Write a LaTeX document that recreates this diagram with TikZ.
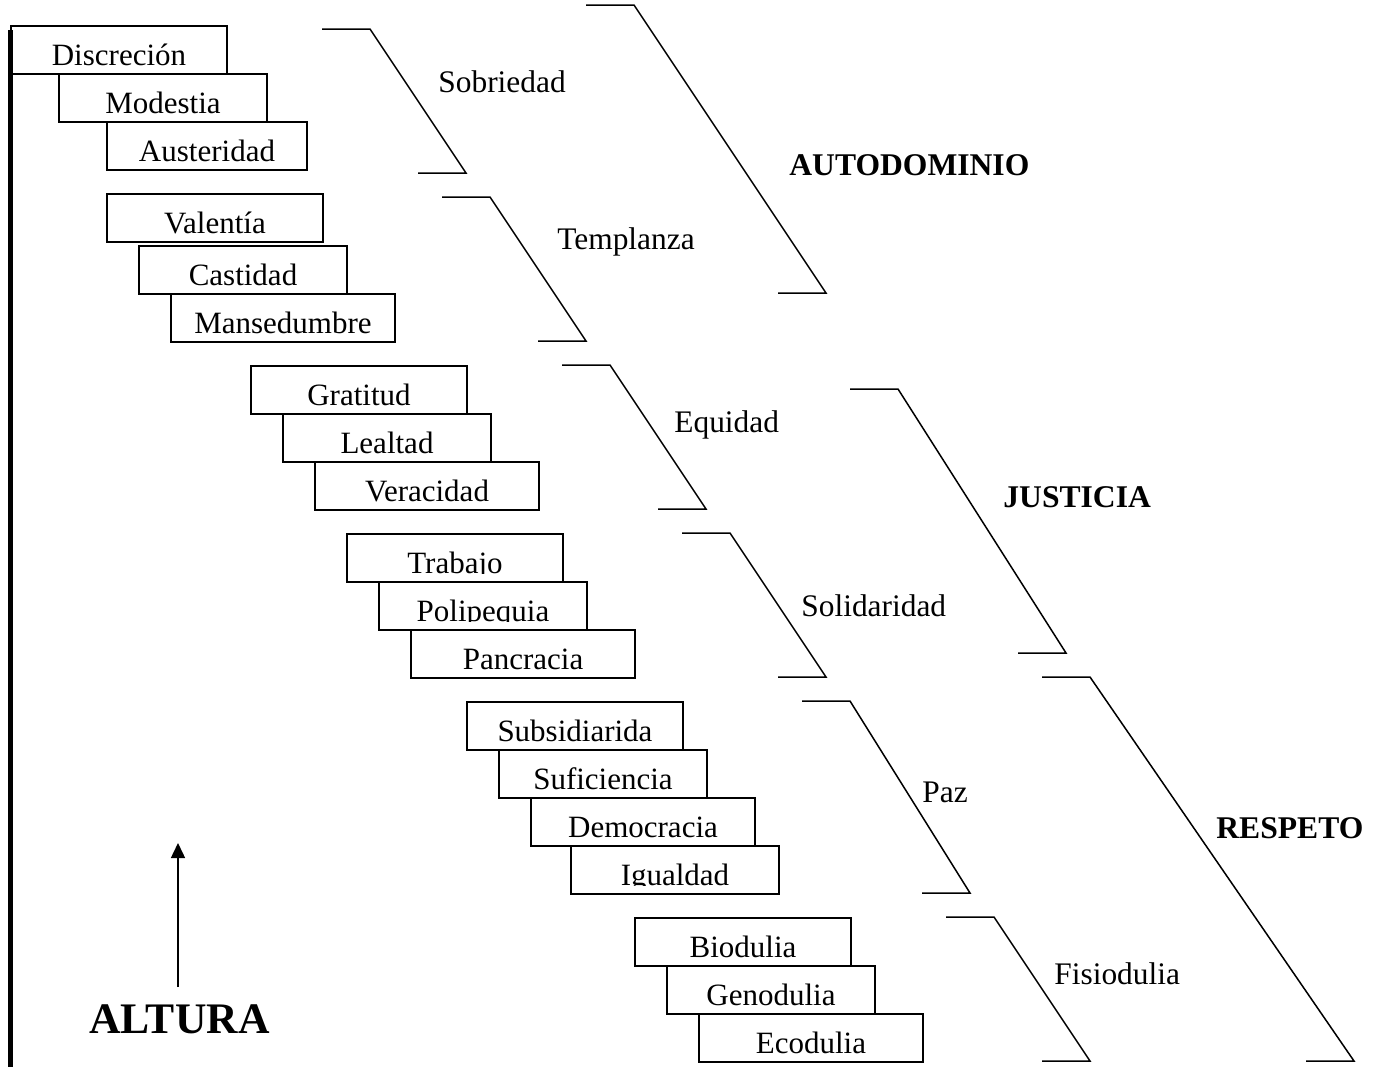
\documentclass[tikz,border=0pt]{standalone}
\usepackage{fontspec}
\setmainfont{Liberation Serif}
\usetikzlibrary{arrows.meta}

\begin{document}
\begin{tikzpicture}[x=0.5pt, y=-0.5pt,
  caja/.style 2 args={draw, line width=1pt, inner sep=0pt, minimum height=24pt, anchor=north west,
    path picture={
      \clip ([yshift=4.5pt]path picture bounding box.south west) rectangle (path picture bounding box.north east);
      \node[virtud] (#1) at ([yshift=4.5pt]path picture bounding box.south) {#2};}},
  virtud/.style={anchor=base, inner sep=0pt, font=\fontsize{15.5}{18}\selectfont},
  etiqueta/.style={anchor=base west, inner sep=0pt, font=\fontsize{15.7}{18}\selectfont},
  valor/.style={anchor=base west, inner sep=0pt, font=\fontsize{15.8}{18}\selectfont\bfseries},
  corchete/.style={line width=0.75pt},
  flecha/.style={line width=0.75pt, -{Triangle[width=7pt,length=7.5pt]}}]

\useasboundingbox (0,0) rectangle (1382,1067);

% Axis
\draw[line width=2.5pt] (10,30) -- (10,1067);

% Sobriedad boxes
\node[caja={discrecion-txt}{Discreción}, minimum width=108pt] (discrecion) at (10,25) {};
\node[caja={modestia-txt}{Modestia}, minimum width=104pt] (modestia) at (58,73) {};
\node[caja={austeridad-txt}{Austeridad}, minimum width=100pt] (austeridad) at (106,121) {};

% Templanza boxes
\node[caja={valentia-txt}{Valentía}, minimum width=108pt] (valentia) at (106,193) {};
\node[caja={castidad-txt}{Castidad}, minimum width=104pt] (castidad) at (138,245) {};
\node[caja={mansedumbre-txt}{Mansedumbre}, minimum width=112pt] (mansedumbre) at (170,293) {};

% Equidad boxes
\node[caja={gratitud-txt}{Gratitud}, minimum width=108pt] (gratitud) at (250,365) {};
\node[caja={lealtad-txt}{Lealtad}, minimum width=104pt] (lealtad) at (282,413) {};
\node[caja={veracidad-txt}{Veracidad}, minimum width=112pt] (veracidad) at (314,461) {};

% Solidaridad boxes
\node[caja={trabajo-txt}{Trabajo}, minimum width=108pt] (trabajo) at (346,533) {};
\node[caja={polipequia-txt}{Polipequia}, minimum width=104pt] (polipequia) at (378,581) {};
\node[caja={pancracia-txt}{Pancracia}, minimum width=112pt] (pancracia) at (410,629) {};

% Paz boxes
\node[caja={subsidiarida-txt}{Subsidiarida}, minimum width=108pt] (subsidiarida) at (466,701) {};
\node[caja={suficiencia-txt}{Suficiencia}, minimum width=104pt] (suficiencia) at (498,749) {};
\node[caja={democracia-txt}{Democracia}, minimum width=112pt] (democracia) at (530,797) {};
\node[caja={igualdad-txt}{Igualdad}, minimum width=104pt] (igualdad) at (570,845) {};

% Fisiodulia boxes
\node[caja={biodulia-txt}{Biodulia}, minimum width=108pt] (biodulia) at (634,917) {};
\node[caja={genodulia-txt}{Genodulia}, minimum width=104pt] (genodulia) at (666,965) {};
\node[caja={ecodulia-txt}{Ecodulia}, minimum width=112pt] (ecodulia) at (698,1013) {};

% Small brackets
\draw[corchete] (322,29) -- (370,29) -- (466,173) -- (418,173);
\draw[corchete] (442,197) -- (490,197) -- (586,341) -- (538,341);
\draw[corchete] (562,365) -- (610,365) -- (706,509) -- (658,509);
\draw[corchete] (682,533) -- (730,533) -- (826,677) -- (778,677);
\draw[corchete] (802,701) -- (850,701) -- (970,893) -- (922,893);
\draw[corchete] (946,917) -- (994,917) -- (1090,1061) -- (1042,1061);
\node[etiqueta] (sobriedad) at (438,92) {Sobriedad};
\node[etiqueta] (templanza) at (557,249) {Templanza};
\node[etiqueta] (equidad) at (674,432) {Equidad};
\node[etiqueta] (solidaridad) at (801,616) {Solidaridad};
\node[etiqueta] (paz) at (922,802) {Paz};
\node[etiqueta] (fisiodulia) at (1054,984) {Fisiodulia};

% Big brackets
\draw[corchete] (586,5) -- (634,5) -- (826,293) -- (778,293);
\draw[corchete] (850,389) -- (898,389) -- (1066,653) -- (1018,653);
\draw[corchete] (1042,677) -- (1090,677) -- (1354,1061) -- (1306,1061);
\node[valor] (autodominio) at (789,175) {AUTODOMINIO};
\node[valor] (justicia) at (1003,507) {JUSTICIA};
\node[valor] (respeto) at (1216,838) {RESPETO};

% Altura arrow
\coordinate (altura-pie) at (178,987);
\coordinate (altura-tope) at (178,843);
\draw[flecha] (altura-pie) -- (altura-tope);
\node[anchor=base west, inner sep=0pt, font=\fontsize{21.8}{25}\selectfont\bfseries] (altura) at (89,1033) {ALTURA};

\end{tikzpicture}
\end{document}
